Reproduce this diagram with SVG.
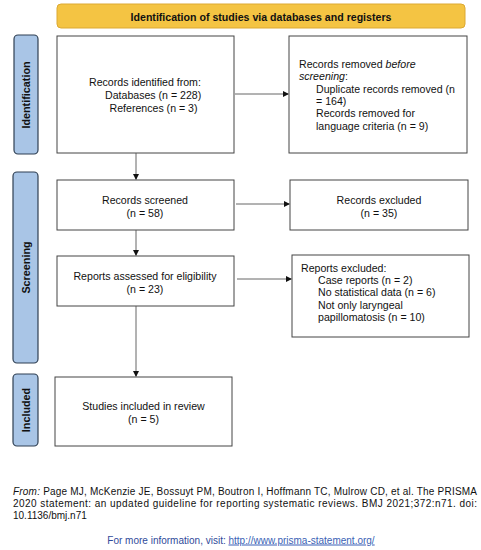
<svg xmlns="http://www.w3.org/2000/svg" width="481" height="550" viewBox="0 0 481 550">
<style>
.box{fill:#fff;stroke:#444;stroke-width:1}
.side{fill:#a9c5e6;stroke:#2f3f52;stroke-width:1.2}
.hdr{fill:#f4c443;stroke:#dca933;stroke-width:1}
text{font-family:"Liberation Sans",Arial,sans-serif;font-size:10.6px;fill:#111}
.c{text-anchor:middle}
.b{font-weight:bold}
.sl{font-weight:bold;font-size:10.8px;text-anchor:middle}
.ln{stroke:#555;stroke-width:0.9;fill:none}
.ft{font-size:10px}
</style>
<defs>
<marker id="ah" markerWidth="6" markerHeight="6" refX="5" refY="3" orient="auto" markerUnits="userSpaceOnUse">
<path d="M0,0 L6,3 L0,6 Z" fill="#111"/>
</marker>
</defs>
<g id="header">
<rect class="hdr" x="57" y="4" width="408" height="24" rx="4"/>
<text class="c b" x="261" y="20.5" style="font-size:10.6px">Identification of studies via databases and registers</text>
</g>
<g id="lbl-identification">
<rect class="side" x="14" y="35" width="24" height="119" rx="4"/>
<text class="sl" transform="translate(30,95) rotate(-90)">Identification</text>
</g>
<g id="lbl-screening">
<rect class="side" x="13" y="172" width="25" height="191" rx="4"/>
<text class="sl" transform="translate(29.5,267.5) rotate(-90)">Screening</text>
</g>
<g id="lbl-included">
<rect class="side" x="13" y="374" width="25" height="72" rx="4"/>
<text class="sl" transform="translate(29.5,410) rotate(-90)">Included</text>
</g>
<g id="n-identified">
<rect class="box" x="57" y="36" width="177" height="117"/>
<text x="89" y="86">Records identified from:</text>
<text x="105" y="99">Databases (n = 228)</text>
<text x="109.5" y="111.5">References (n = 3)</text>
</g>
<g id="n-removed">
<rect class="box" x="289" y="36" width="178" height="117"/>
<text x="299" y="68">Records removed <tspan font-style="italic">before</tspan></text>
<text x="299" y="80"><tspan font-style="italic">screening</tspan>:</text>
<text x="316" y="93">Duplicate records removed (n</text>
<text x="316" y="105">= 164)</text>
<text x="316" y="117">Records removed for</text>
<text x="316" y="129.5">language criteria (n = 9)</text>
</g>
<g id="n-screened">
<rect class="box" x="57" y="180" width="177" height="50"/>
<text class="c" x="145" y="204">Records screened</text>
<text class="c" x="145" y="216.5">(n = 58)</text>
</g>
<g id="n-excluded">
<rect class="box" x="290" y="180" width="178" height="50"/>
<text class="c" x="379" y="204">Records excluded</text>
<text class="c" x="379" y="216.5">(n = 35)</text>
</g>
<g id="n-assessed">
<rect class="box" x="57" y="256" width="177" height="50"/>
<text class="c" x="145" y="280">Reports assessed for eligibility</text>
<text class="c" x="145" y="293">(n = 23)</text>
</g>
<g id="n-rep-excluded">
<rect class="box" x="292" y="255" width="177" height="82"/>
<text x="301" y="272">Reports excluded:</text>
<text x="318" y="284">Case reports (n = 2)</text>
<text x="318" y="296">No statistical data (n = 6)</text>
<text x="318" y="308.5">Not only laryngeal</text>
<text x="318" y="321">papillomatosis (n = 10)</text>
</g>
<g id="n-included">
<rect class="box" x="55" y="377" width="177" height="69"/>
<text class="c" x="143.5" y="410">Studies included in review</text>
<text class="c" x="143.5" y="423">(n = 5)</text>
</g>
<g id="connectors">
<line class="ln" x1="136" y1="153" x2="136" y2="179" marker-end="url(#ah)"/>
<line class="ln" x1="136" y1="230" x2="136" y2="255" marker-end="url(#ah)"/>
<line class="ln" x1="136" y1="306" x2="136" y2="376" marker-end="url(#ah)"/>
<line class="ln" x1="235" y1="94" x2="288" y2="94" marker-end="url(#ah)"/>
<line class="ln" x1="236" y1="204" x2="289" y2="204" marker-end="url(#ah)"/>
<line class="ln" x1="237" y1="279" x2="291" y2="279" marker-end="url(#ah)"/>
</g>
<g id="footer">
<text class="ft" x="13" y="494.5" textLength="464" lengthAdjust="spacing"><tspan font-style="italic">From:</tspan>  Page MJ, McKenzie JE, Bossuyt PM, Boutron I, Hoffmann TC, Mulrow CD, et al. The PRISMA</text>
<text class="ft" x="13" y="507" textLength="464" lengthAdjust="spacing">2020 statement: an updated guideline for reporting systematic reviews. BMJ 2021;372:n71. doi:</text>
<text class="ft" x="13" y="519">10.1136/bmj.n71</text>
<text class="ft c" x="241" y="543.5" style="fill:#2f4a9a">For more information, visit: <tspan text-decoration="underline" style="fill:#3a5fb5">http://www.prisma-statement.org/</tspan></text>
</g>
</svg>
